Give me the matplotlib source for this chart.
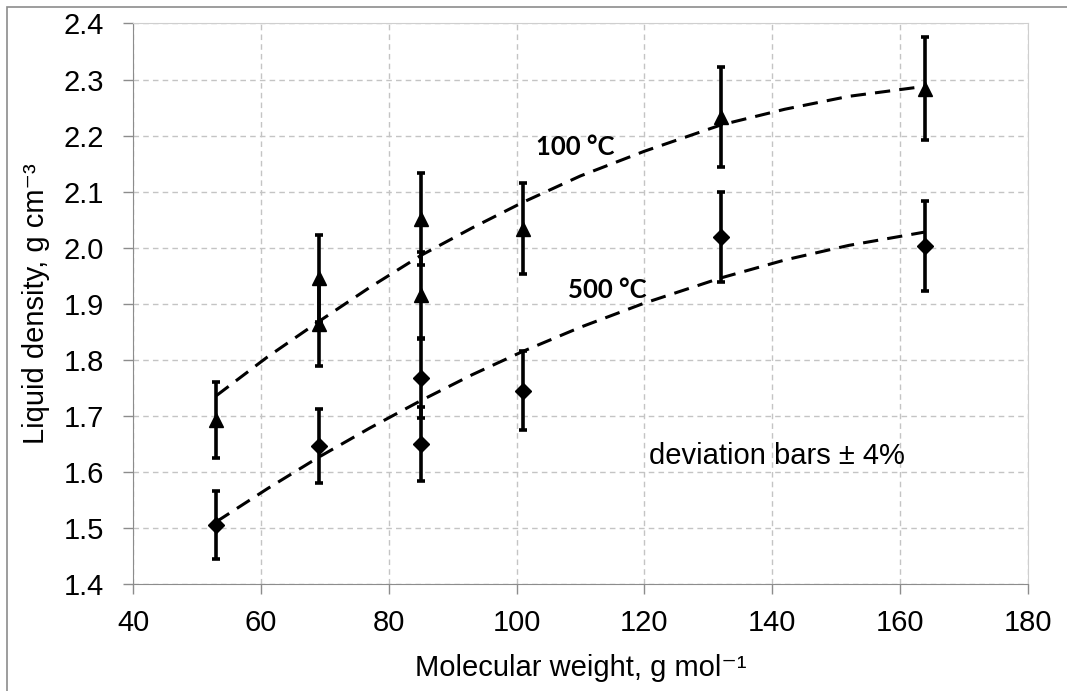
import numpy as np
import matplotlib
matplotlib.use("Agg")
import matplotlib.pyplot as plt
from matplotlib.patches import Rectangle

# === Data ===
mw = [53, 69, 69, 85, 85, 101, 132, 164]
rho_100 = [1.692, 1.945, 1.864, 2.052, 1.915, 2.034, 2.233, 2.284]
mw_500 = [53, 69, 85, 85, 101, 132, 164]
rho_500 = [1.505, 1.646, 1.767, 1.650, 1.745, 2.019, 2.003]

# Excel-style trend lines
trend_x = [53, 61, 69, 77, 85, 93, 101, 110, 120, 132, 142, 152, 164]
trend_100 = [1.736, 1.805, 1.868, 1.929, 1.986, 2.035, 2.081, 2.128, 2.172, 2.219, 2.247, 2.270, 2.288]
trend_500 = [1.511, 1.570, 1.626, 1.678, 1.727, 1.773, 1.815, 1.858, 1.901, 1.946, 1.978, 2.004, 2.028]

dev = 0.04  # deviation bars +/- 4 %

x_ticks = [40, 60, 80, 100, 120, 140, 160, 180]
y_ticks = [1.4, 1.5, 1.6, 1.7, 1.8, 1.9, 2.0, 2.1, 2.2, 2.3, 2.4]

plt.rcParams["font.family"] = ["Liberation Sans", "DejaVu Sans"]

fig = plt.figure(figsize=(10.67, 6.91), dpi=100)
ax = fig.add_axes([0.125, 0.155, 0.838, 0.811])

# outer frame (left and top edges visible)
fig.patches.append(Rectangle((0.0066, -0.05), 1.2, 1.04, transform=fig.transFigure,
                             fill=False, edgecolor="#8c8c8c", linewidth=1.2))

# trend lines
ax.plot(trend_x, trend_100, color="black", linestyle=(0, (5, 3)), linewidth=2.2, zorder=3)
ax.plot(trend_x, trend_500, color="black", linestyle=(0, (5, 3)), linewidth=2.2, zorder=3)

# data with deviation bars
r100 = np.array(rho_100)
r500 = np.array(rho_500)
ax.errorbar(mw, r100, yerr=r100 * dev, fmt="^", color="black", markersize=10.5,
            elinewidth=2.6, capsize=3, capthick=2.6, zorder=4)
ax.errorbar(mw_500, r500, yerr=r500 * dev, fmt="D", color="black", markersize=8.5,
            elinewidth=2.6, capsize=3, capthick=2.6, zorder=4)

# annotations
ax.text(109.2, 2.179, "100 °C", fontsize=18.5, fontweight="bold", family=["Lato", "DejaVu Sans"],
        ha="center", va="center")
ax.text(114.2, 1.924, "500 °C", fontsize=18.5, fontweight="bold", family=["Lato", "DejaVu Sans"],
        ha="center", va="center")
ax.text(140.8, 1.629, "deviation bars ± 4%", fontsize=21, ha="center", va="center")

# === Axes styling ===
ax.set_xlim(40, 180)
ax.set_ylim(1.4, 2.4)
ax.set_xticks(x_ticks)
ax.set_yticks(y_ticks)
ax.set_yticklabels([f"{v:.1f}" for v in y_ticks])
ax.tick_params(axis="both", labelsize=21, length=7, width=1, color="#8c8c8c")
ax.tick_params(axis="y", pad=14)
ax.tick_params(axis="x", pad=11)
ax.grid(True, color="#c4c4c4", linestyle=(0, (4, 3)), linewidth=1)
ax.set_axisbelow(True)
for side in ["left", "bottom"]:
    ax.spines[side].set_color("#8c8c8c")
for side in ["top", "right"]:
    ax.spines[side].set_color("#cfcfcf")

ax.set_xlabel("Molecular weight, g mol⁻¹", fontsize=21, labelpad=12)
ax.set_ylabel("Liquid density, g cm⁻³", fontsize=21, labelpad=10)

fig.savefig("out.png", dpi=100)
